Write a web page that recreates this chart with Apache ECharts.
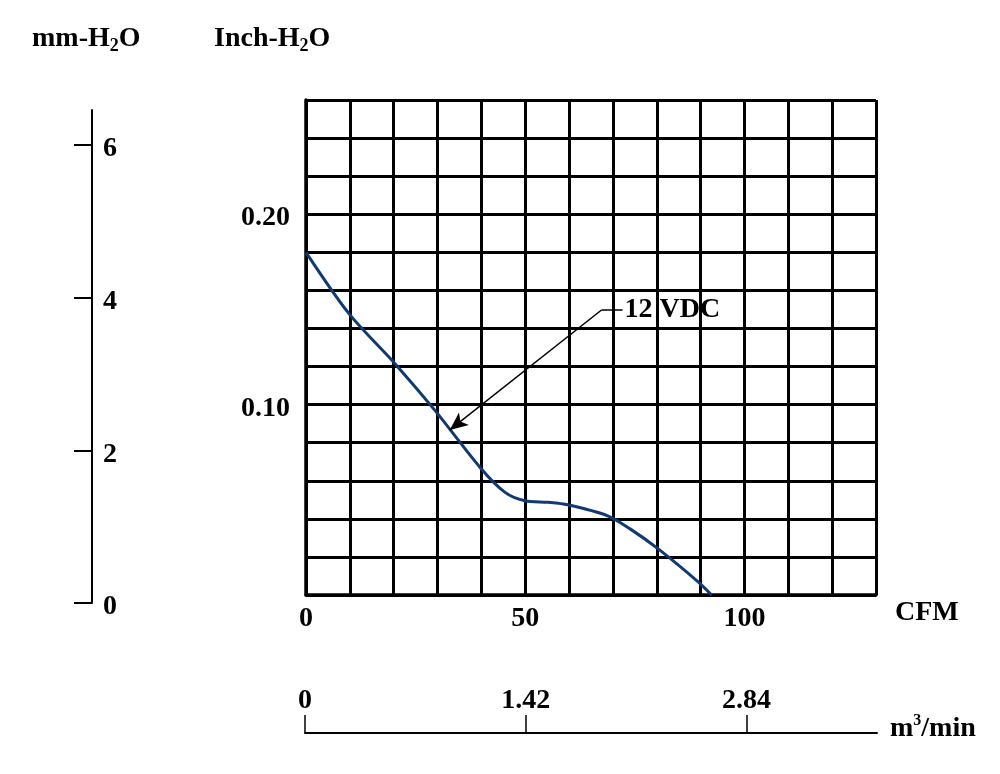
<!DOCTYPE html>
<html>
<head>
<meta charset="utf-8">
<title>12 VDC fan curve</title>
<script src="https://cdn.jsdelivr.net/npm/echarts@6.0.0/dist/echarts.min.js"></script>
<style>
  html, body { margin: 0; padding: 0; background: #fff; }
  #chart { width: 1000px; height: 774px; }
</style>
</head>
<body>
<div id="chart"></div>
<script>
// airflow (CFM) vs static pressure (Inch-H2O)
var cfm = [0, 9.9, 20.5, 29.5, 39.7, 45.4, 49.9, 55.2, 59.7, 68.8, 74.0, 80.4, 89.5, 92.5];
var inchH2O = [0.180, 0.1475, 0.121, 0.0967, 0.067, 0.0539, 0.0495, 0.0487, 0.0474, 0.0416, 0.0346, 0.0241, 0.0068, 0];

// tick labels
var cfmLabels = [0, 50, 100];
var inchLabels = [0.10, 0.20];
var mmLabels = [0, 2, 4, 6];
var m3Labels = [0, 1.42, 2.84];

// "12 VDC" callout, in CFM / Inch-H2O
var arrowTip = [32.8, 0.0867];
var elbow = [67.4, 0.1497];
var textAnchor = [72.2, 0.1497];

var FONT = 'Liberation Serif';
var FS = 28;
var labelStyle = { color: '#000', fontFamily: FONT, fontWeight: 'bold', fontSize: FS };
// nudges y-axis tick labels a few px down, as in the original
var lowRich = { d: { fontFamily: FONT, fontWeight: 'bold', fontSize: FS, color: '#000', padding: [8, 0, 0, 0] } };
var richTitle = {
    t: { fontFamily: FONT, fontWeight: 'bold', fontSize: FS, lineHeight: 32, fill: '#000' },
    s: { fontFamily: FONT, fontWeight: 'bold', fontSize: 18, lineHeight: 20, verticalAlign: 'bottom', fill: '#000' },
    p: { fontFamily: FONT, fontWeight: 'bold', fontSize: 16, lineHeight: 20, verticalAlign: 'top', fill: '#000' }
};

var myChart = echarts.init(document.getElementById('chart'));

myChart.setOption({
    animation: false,
    backgroundColor: '#fff',
    grid: [
        { left: 306, top: 100, width: 570, height: 495 },   // main grid
        { left: 92, top: 110, width: 1, height: 493 },      // mm-H2O scale
        { left: 305, top: 732, width: 572, height: 1 }      // m3/min scale
    ],
    xAxis: [
        {
            gridIndex: 0, type: 'value', min: 0, max: 130, interval: 10,
            axisLine: { show: true, lineStyle: { color: '#000', width: 3.5 } },
            axisTick: { show: false },
            splitLine: { show: true, lineStyle: { color: '#000', width: 3 } },
            axisLabel: Object.assign({ customValues: cfmLabels, margin: 10 }, labelStyle)
        },
        { gridIndex: 1, type: 'value', show: false, min: 0, max: 1 },
        {
            gridIndex: 2, type: 'value', min: 0, max: 3.68, position: 'bottom',
            axisLine: { show: true, lineStyle: { color: '#000', width: 2 } },
            axisTick: { show: true, inside: true, length: 18, customValues: m3Labels,
                        lineStyle: { color: '#000', width: 1.5 } },
            splitLine: { show: false },
            axisLabel: Object.assign({ inside: true, customValues: m3Labels, margin: 18,
                        formatter: function (v) { return v === 0 ? '0' : v.toFixed(2); } }, labelStyle)
        }
    ],
    yAxis: [
        {
            gridIndex: 0, type: 'value', min: 0, max: 0.26, interval: 0.02,
            axisLine: { show: true, lineStyle: { color: '#000', width: 3.5 } },
            axisTick: { show: false },
            splitLine: { show: true, lineStyle: { color: '#000', width: 3 } },
            axisLabel: Object.assign({ customValues: inchLabels, margin: 16, rich: lowRich,
                        formatter: function (v) { return '{d|' + v.toFixed(2) + '}'; } }, labelStyle)
        },
        {
            gridIndex: 1, type: 'value', min: 0, max: 6.46, position: 'left',
            axisLine: { show: true, lineStyle: { color: '#000', width: 2 } },
            axisTick: { show: true, length: 18, customValues: mmLabels,
                        lineStyle: { color: '#000', width: 2 } },
            splitLine: { show: false },
            axisLabel: Object.assign({ inside: true, customValues: mmLabels, margin: 11, rich: lowRich,
                        formatter: function (v) { return '{d|' + v + '}'; } }, labelStyle)
        },
        { gridIndex: 2, type: 'value', show: false, min: 0, max: 1 }
    ],
    graphic: [
        {
            type: 'text', left: 32, top: 25,
            style: { text: '{t|mm-H}{s|2}{t|O}', rich: richTitle }
        },
        {
            type: 'text', left: 214, top: 25,
            style: { text: '{t|Inch-H}{s|2}{t|O}', rich: richTitle }
        },
        {
            type: 'text', left: 895, top: 599,
            style: { text: 'CFM', font: 'bold 28px "Liberation Serif"', fill: '#000' }
        },
        {
            type: 'text', left: 890, top: 713,
            style: { text: '{t|m}{p|3}{t|/min}', rich: richTitle }
        }
    ],
    series: [
        {
            name: '12 VDC',
            type: 'line',
            xAxisIndex: 0, yAxisIndex: 0,
            smooth: 0.3,
            symbol: 'none',
            lineStyle: { color: '#123a72', width: 3 },
            data: cfm.map(function (x, i) { return [x, inchH2O[i]]; }),
            markLine: {
                silent: true,
                symbol: ['none', 'none'],
                lineStyle: { color: '#000', width: 1.5, type: 'solid' },
                label: { show: false },
                data: [
                    [{ coord: elbow }, { coord: arrowTip, symbol: 'arrow', symbolSize: [12, 18] }],
                    [{ coord: elbow }, { coord: textAnchor,
                        label: Object.assign({ show: true, position: 'end', distance: 2, formatter: '12 VDC' }, labelStyle) }]
                ]
            }
        }
    ]
});
</script>
</body>
</html>
